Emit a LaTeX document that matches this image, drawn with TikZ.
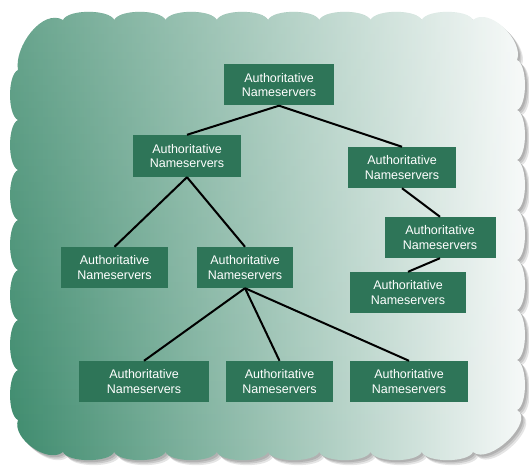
\documentclass[tikz,border=0pt]{standalone}
\usepackage{fontspec}
\usetikzlibrary{fadings}
\setmainfont{Liberation Sans}
\definecolor{boxgreen}{RGB}{46,117,88}
\definecolor{cloudL}{RGB}{60,138,108}
\definecolor{cloudR}{RGB}{250,251,251}
\tikzset{
  ns/.style={fill=boxgreen, text=white, font=\fontsize{12.5}{14.5}\selectfont,
    align=center, inner sep=0pt, minimum height=41pt},
  link/.style={line width=2pt, black},
  bump/.style={looseness=0.6},
}
\begin{document}
\begin{tikzpicture}[x=1pt,y=1pt]
\useasboundingbox (0,0) rectangle (529,468);
\def\cloud{(18,398) to[out=100,in=150,looseness=0.9] (63,448)
  \foreach \x in {114.25,165.5,216.75,268,319.25,370.5,421.75,473}{ to[bump,out=65,in=115] (\x,448)}
  to[out=40,in=70,looseness=0.9] (517,408)
  \foreach \y in {358,308,258,208,158,108,58}{ to[bump,out=-25,in=25] (517,\y)}
  to[out=-30,in=-40,looseness=0.9] (473,16)
  \foreach \x in {421.75,370.5,319.25,268,216.75,165.5,114.25,63}{ to[bump,out=-115,in=-65] (\x,16)}
  to[out=-140,in=-110,looseness=0.9] (18,48)
  \foreach \y in {98,148,198,248,298,348,398}{ to[bump,out=155,in=-155] (18,\y)}
  -- cycle}
\fill[black, opacity=0.12, xshift=2pt, yshift=-2pt] \cloud;
\fill[black, opacity=0.12, xshift=3.5pt, yshift=-3.5pt] \cloud;
\fill[black, opacity=0.10, xshift=5pt, yshift=-5pt] \cloud;
\shade[left color=cloudL, right color=cloudR] \cloud;
\fill[white, fill opacity=0.22, path fading=south] \cloud;

\node[ns, minimum width=110pt] (root) at (279,383) {Authoritative\\Nameservers};
\node[ns, minimum width=108pt, minimum height=42pt] (l2a) at (187,312) {Authoritative\\Nameservers};
\node[ns, minimum width=108pt] (l2b) at (402,300.5) {Authoritative\\Nameservers};
\node[ns, minimum width=107pt] (l3a) at (114.5,200.5) {Authoritative\\Nameservers};
\node[ns, minimum width=96pt] (l3b) at (245,200.5) {Authoritative\\Nameservers};
\node[ns, minimum width=111pt] (l3c) at (440,230.5) {Authoritative\\Nameservers};
\node[ns, minimum width=116pt] (l4c) at (408,175.5) {Authoritative\\Nameservers};
\node[ns, minimum width=130pt] (b1) at (144,86.5) {Authoritative\\Nameservers};
\node[ns, minimum width=107pt] (b2) at (279.5,86.5) {Authoritative\\Nameservers};
\node[ns, minimum width=118pt] (b3) at (409,86.5) {Authoritative\\Nameservers};

\draw[link] (root.south) -- (l2a.north);
\draw[link] (root.south) -- (l2b.north);
\draw[link] (l2a.south) -- (l3a.north);
\draw[link] (l2a.south) -- (l3b.north);
\draw[link] (l3b.south) -- (b1.north);
\draw[link] (l3b.south) -- (b2.north);
\draw[link] (l3b.south) -- (b3.north);
\draw[link] (l2b.south) -- (l3c.north);
\draw[link] (l3c.south) -- (l4c.north);
\end{tikzpicture}
\end{document}
